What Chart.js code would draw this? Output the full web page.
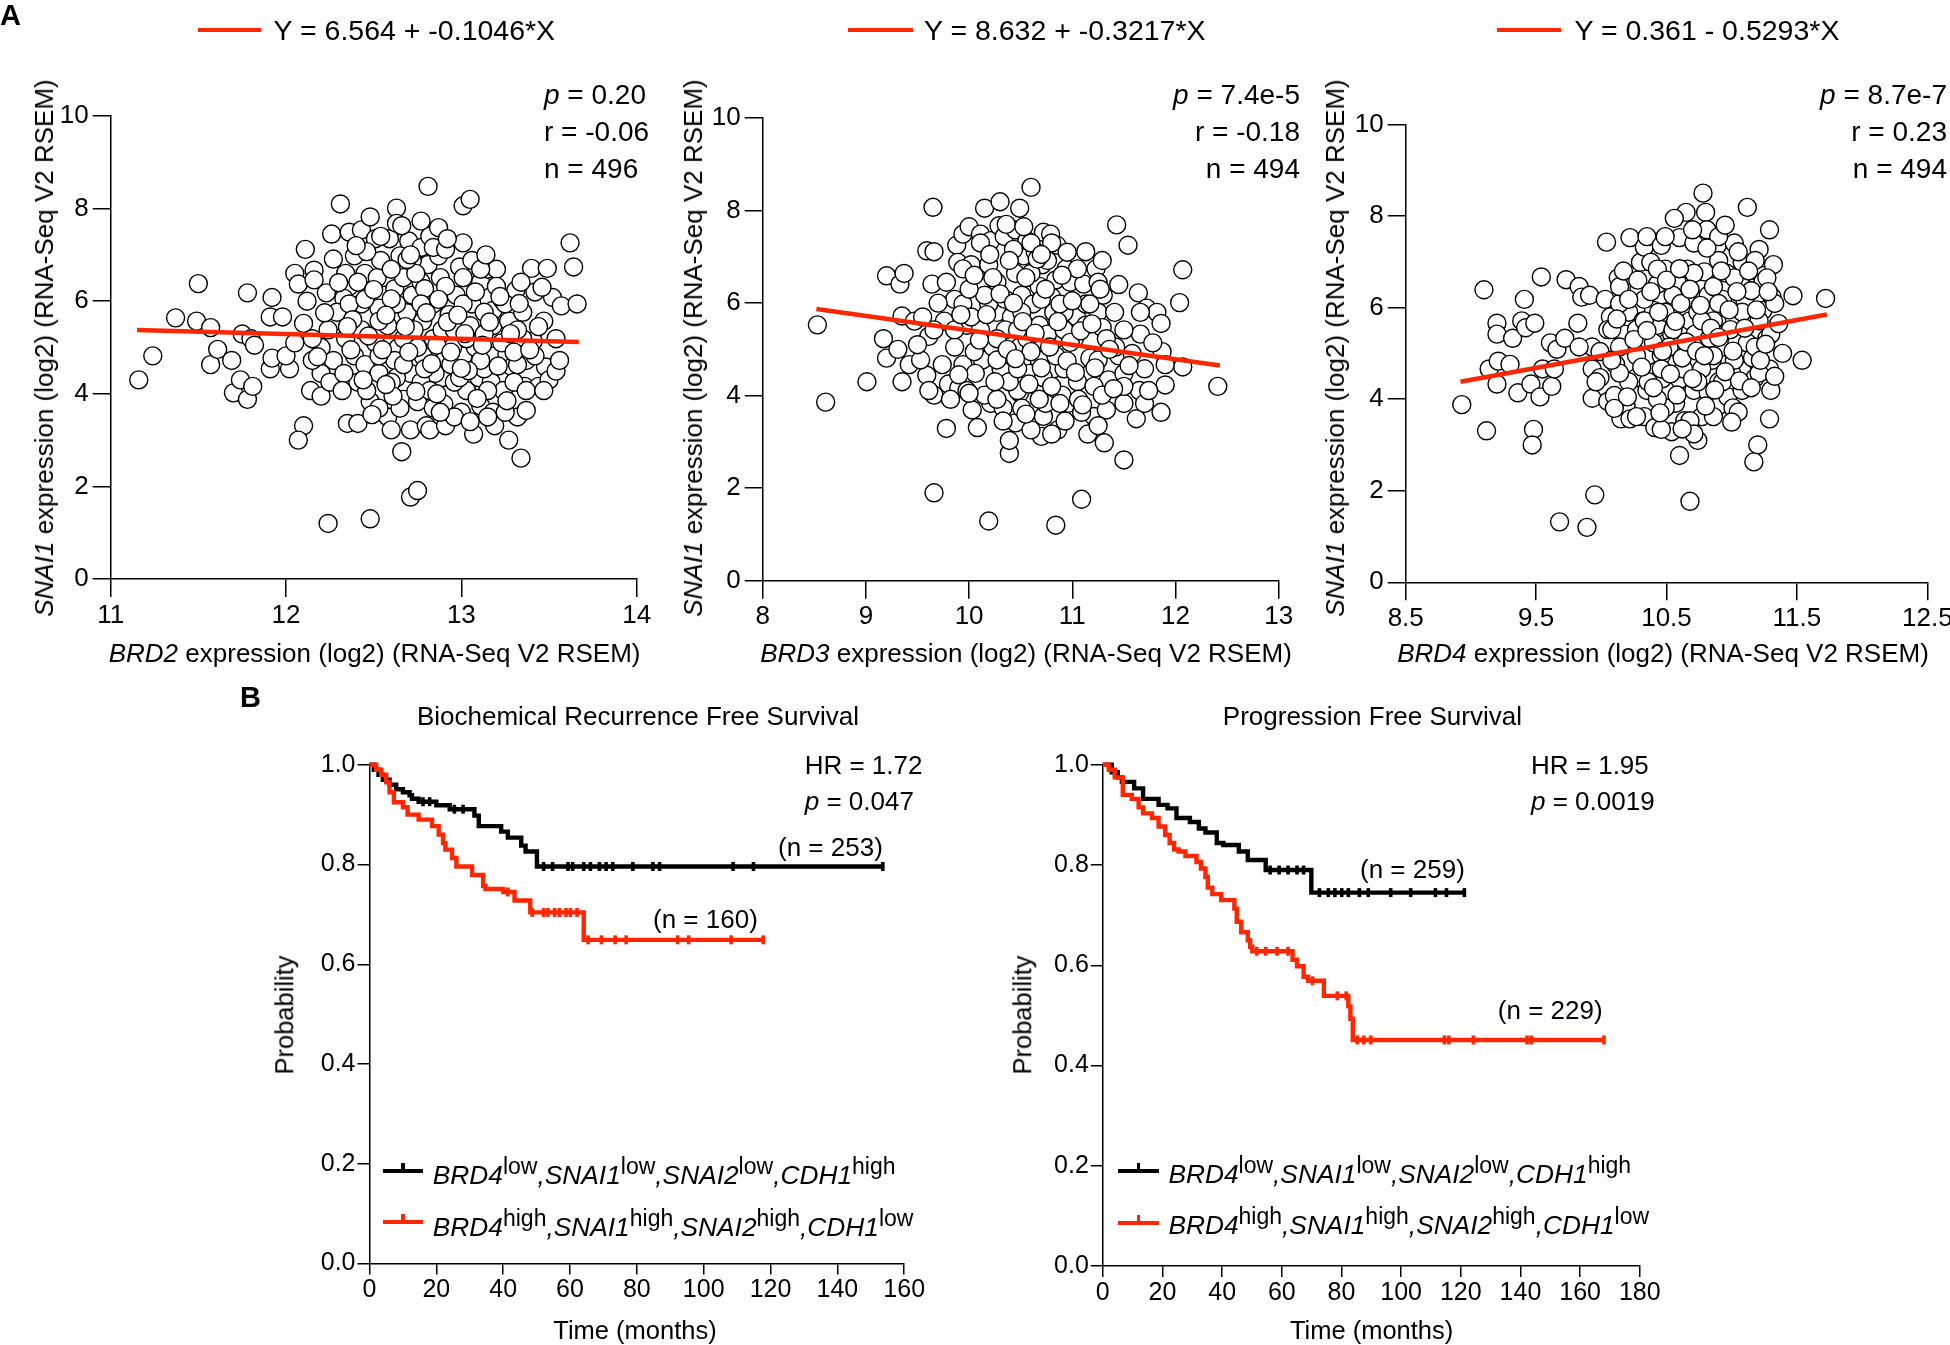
<!DOCTYPE html>
<html><head><meta charset="utf-8">
<script src="https://cdn.jsdelivr.net/npm/chart.js@4.4.1/dist/chart.umd.min.js"></script>
<style>
html,body{margin:0;padding:0;background:#fff;}
#wrap{position:relative;width:1950px;height:1345px;overflow:hidden;background:#fff;font-family:"Liberation Sans",Arial,Helvetica,sans-serif;color:#000;}
canvas{position:absolute;left:0;top:0;}
.t{position:absolute;white-space:nowrap;line-height:1;}
.l{transform:translateY(-50%);}
.c{transform:translate(-50%,-50%);}
.rot{transform:translate(-50%,-50%) rotate(-90deg);}
.seg{position:absolute;}
.lg sup{font-style:normal;font-size:23px;vertical-align:10px;line-height:0;}
</style></head>
<body><div id="wrap">
<canvas id="s1" width="2100" height="1345"></canvas>
<canvas id="s2" width="2100" height="1345"></canvas>
<canvas id="s3" width="2100" height="1345"></canvas>
<canvas id="k1" width="2100" height="1345"></canvas>
<canvas id="k2" width="2100" height="1345"></canvas>

<!-- panel letters -->
<div class="t l" style="left:0px;top:15px;font-size:29px;font-weight:bold">A</div>
<div class="t l" style="left:240px;top:697px;font-size:29px;font-weight:bold">B</div>

<!-- equation legends -->
<div class="seg" style="left:198px;top:27.8px;width:63px;height:4.5px;background:#ff2600"></div>
<div class="t l" style="left:273.6px;top:30px;font-size:28.5px">Y = 6.564 + -0.1046*X</div>
<div class="seg" style="left:848px;top:27.8px;width:64.5px;height:4.5px;background:#ff2600"></div>
<div class="t l" style="left:924px;top:30px;font-size:28.5px">Y = 8.632 + -0.3217*X</div>
<div class="seg" style="left:1496.5px;top:27.8px;width:64.5px;height:4.5px;background:#ff2600"></div>
<div class="t l" style="left:1574.5px;top:30px;font-size:28.5px">Y = 0.361 - 0.5293*X</div>

<!-- stats scatter -->
<div class="t l" style="left:544px;top:94.5px;font-size:28px"><i>p</i> = 0.20</div>
<div class="t l" style="left:544px;top:132px;font-size:28px">r = -0.06</div>
<div class="t l" style="left:544px;top:169px;font-size:28px">n = 496</div>
<div class="t l" style="right:650px;top:94.5px;font-size:28px"><i>p</i> = 7.4e-5</div>
<div class="t l" style="right:650px;top:132px;font-size:28px">r = -0.18</div>
<div class="t l" style="right:650px;top:169px;font-size:28px">n = 494</div>
<div class="t l" style="right:3px;top:94.5px;font-size:28px"><i>p</i> = 8.7e-7</div>
<div class="t l" style="right:3px;top:132px;font-size:28px">r = 0.23</div>
<div class="t l" style="right:3px;top:169px;font-size:28px">n = 494</div>

<!-- scatter axis titles -->
<div class="t c" style="left:374.6px;top:652.7px;font-size:26px"><i>BRD2</i> expression (log2) (RNA-Seq V2 RSEM)</div>
<div class="t c" style="left:1026px;top:652.7px;font-size:26px"><i>BRD3</i> expression (log2) (RNA-Seq V2 RSEM)</div>
<div class="t c" style="left:1663px;top:652.7px;font-size:26px"><i>BRD4</i> expression (log2) (RNA-Seq V2 RSEM)</div>
<div class="t rot" style="left:44.2px;top:348px;font-size:26px"><i>SNAI1</i> expression (log2) (RNA-Seq V2 RSEM)</div>
<div class="t rot" style="left:692.7px;top:348px;font-size:26px"><i>SNAI1</i> expression (log2) (RNA-Seq V2 RSEM)</div>
<div class="t rot" style="left:1334.5px;top:348px;font-size:26px"><i>SNAI1</i> expression (log2) (RNA-Seq V2 RSEM)</div>

<!-- KM titles and texts -->
<div class="t c" style="left:638px;top:716px;font-size:26px">Biochemical Recurrence Free Survival</div>
<div class="t c" style="left:1372.4px;top:716px;font-size:26px">Progression Free Survival</div>
<div class="t l" style="left:804.7px;top:764.8px;font-size:26px">HR = 1.72</div>
<div class="t l" style="left:804.7px;top:800.9px;font-size:26px"><i>p</i> = 0.047</div>
<div class="t l" style="left:1531px;top:764.8px;font-size:26px">HR = 1.95</div>
<div class="t l" style="left:1531px;top:800.9px;font-size:26px"><i>p</i> = 0.0019</div>
<div class="t l" style="left:778px;top:846.7px;font-size:26px">(n = 253)</div>
<div class="t l" style="left:653px;top:918.8px;font-size:26px">(n = 160)</div>
<div class="t l" style="left:1360px;top:868.7px;font-size:26px">(n = 259)</div>
<div class="t l" style="left:1497.8px;top:1010px;font-size:26px">(n = 229)</div>
<div class="t rot" style="left:284.6px;top:1015px;font-size:25.5px">Probability</div>
<div class="t rot" style="left:1023.3px;top:1015px;font-size:25.5px">Probability</div>
<div class="t c" style="left:635px;top:1331px;font-size:25.5px">Time (months)</div>
<div class="t c" style="left:1371.6px;top:1331px;font-size:25.5px">Time (months)</div>

<!-- KM legends -->
<div class="seg" style="left:382.8px;top:1168.8px;width:40.2px;height:4.4px;background:#000"></div>
<div class="seg" style="left:401.2px;top:1163px;width:3.6px;height:8px;background:#000"></div>
<div class="t l lg" style="left:432.8px;top:1175px;font-size:26.3px"><i>BRD4</i><sup>low</sup><i>,SNAI1</i><sup>low</sup><i>,SNAI2</i><sup>low</sup><i>,CDH1</i><sup>high</sup></div>
<div class="seg" style="left:382.8px;top:1219.8px;width:40.2px;height:4.4px;background:#ff2600"></div>
<div class="seg" style="left:401.2px;top:1214px;width:3.6px;height:8px;background:#ff2600"></div>
<div class="t l lg" style="left:432.8px;top:1226.7px;font-size:26.3px"><i>BRD4</i><sup>high</sup><i>,SNAI1</i><sup>high</sup><i>,SNAI2</i><sup>high</sup><i>,CDH1</i><sup>low</sup></div>
<div class="seg" style="left:1118.4px;top:1168.8px;width:40.2px;height:4.4px;background:#000"></div>
<div class="seg" style="left:1136.8px;top:1163px;width:3.6px;height:8px;background:#000"></div>
<div class="t l lg" style="left:1168.4px;top:1174px;font-size:26.3px"><i>BRD4</i><sup>low</sup><i>,SNAI1</i><sup>low</sup><i>,SNAI2</i><sup>low</sup><i>,CDH1</i><sup>high</sup></div>
<div class="seg" style="left:1118.4px;top:1220.6px;width:40.2px;height:4.4px;background:#ff2600"></div>
<div class="seg" style="left:1136.8px;top:1215px;width:3.6px;height:8px;background:#ff2600"></div>
<div class="t l lg" style="left:1168.4px;top:1225px;font-size:26.3px"><i>BRD4</i><sup>high</sup><i>,SNAI1</i><sup>high</sup><i>,SNAI2</i><sup>high</sup><i>,CDH1</i><sup>low</sup></div>
</div>

<script>
// ---------------- DATA ----------------
// Panel A: [gene expression, SNAI1 expression] (log2 RSEM)
const brd2Points = [[11.16,4.30],[11.24,4.82],[11.37,5.64],[11.50,6.38],[11.49,5.57],[11.57,5.43],[11.57,4.63],[11.61,4.96],[11.69,4.72],[11.70,4.02],[11.74,4.30],[11.78,3.88],[11.81,4.16],[11.78,6.18],[11.75,5.29],[11.80,5.19],[11.82,5.05],[11.91,4.54],[11.92,6.08],[11.91,5.66],[11.98,5.66],[11.92,4.77],[12.02,4.54],[12.00,4.82],[12.05,6.60],[12.07,6.37],[12.11,7.12],[12.10,5.52],[12.10,3.31],[12.07,3.00],[12.16,6.67],[12.16,6.46],[12.14,4.07],[12.20,3.95],[12.23,6.18],[12.26,7.45],[12.31,8.10],[12.24,1.20],[12.27,4.72],[12.28,5.57],[12.20,4.44],[12.36,7.49],[12.35,3.36],[12.41,3.36],[12.36,6.32],[12.39,6.98],[12.43,7.54],[12.48,1.30],[12.48,3.83],[12.43,5.94],[12.45,6.60],[12.51,7.35],[12.52,6.51],[12.54,6.88],[12.56,6.13],[12.53,5.85],[12.58,3.50],[12.59,7.35],[12.63,8.01],[12.63,7.68],[12.62,6.27],[12.65,5.66],[12.66,2.75],[12.64,5.00],[12.67,3.88],[12.70,7.30],[12.69,5.75],[12.71,1.77],[12.75,1.91],[12.71,3.22],[12.71,4.44],[12.75,3.83],[12.77,7.73],[12.77,7.16],[12.75,6.79],[12.81,8.48],[12.82,7.40],[12.81,6.79],[12.78,5.57],[12.78,4.82],[12.80,3.31],[12.82,3.22],[12.87,7.59],[12.87,6.98],[12.88,6.51],[12.84,5.19],[12.89,4.35],[12.90,3.78],[12.91,3.31],[12.93,5.71],[12.91,4.77],[12.99,6.74],[13.00,3.60],[13.01,8.06],[13.05,8.20],[13.01,4.82],[13.03,4.07],[13.05,5.47],[13.06,5.94],[13.07,3.13],[13.08,5.00],[13.11,6.41],[13.11,3.74],[13.10,4.35],[13.15,6.69],[13.17,4.25],[13.18,5.80],[13.18,5.47],[13.18,3.60],[13.20,6.69],[13.19,4.82],[13.23,6.04],[13.26,4.86],[13.27,3.00],[13.29,4.58],[13.31,6.23],[13.32,3.50],[13.34,2.61],[13.36,4.16],[13.37,3.64],[13.40,6.71],[13.41,5.14],[13.42,6.20],[13.44,4.16],[13.48,4.58],[13.49,6.71],[13.52,6.08],[13.50,4.30],[13.54,4.49],[13.57,5.90],[13.62,7.26],[13.64,6.74],[13.66,5.94],[12.27,6.91],[12.33,6.06],[12.34,5.19],[12.39,4.82],[12.41,4.25],[12.43,5.38],[12.45,4.63],[12.51,5.10],[12.53,4.44],[12.58,5.47],[12.62,4.72],[12.63,4.35],[12.67,5.19],[12.72,6.13],[12.73,5.38],[12.77,6.41],[12.84,5.94],[12.85,4.44],[12.89,5.38],[12.95,5.00],[12.96,4.25],[12.97,6.13],[13.01,7.26],[13.06,6.88],[13.13,5.29],[13.24,4.07],[13.27,5.57],[13.35,5.19],[13.37,4.72],[12.20,5.00],[12.25,4.25],[12.15,5.19],[12.05,5.10],[12.48,7.82],[12.67,6.51],[12.91,6.32],[12.65,3.69],[12.77,4.25],[13.13,4.54],[13.19,3.31],[12.54,7.40],[12.66,7.63],[12.46,7.07],[12.65,6.98],[12.84,7.16],[12.91,7.12],[13.11,6.69],[12.34,6.60],[12.41,6.41],[12.60,6.69],[12.72,6.88],[12.79,6.27],[13.01,6.51],[13.20,6.32],[13.34,6.41],[12.29,5.76],[12.36,5.94],[12.45,6.04],[12.63,5.94],[12.77,5.94],[12.87,6.04],[13.01,5.94],[13.13,5.76],[13.25,5.94],[13.35,5.76],[13.47,5.57],[12.24,5.38],[12.53,5.57],[12.75,5.00],[12.96,5.38],[13.03,5.19],[13.23,5.10],[13.32,5.38],[13.54,5.19],[12.15,4.72],[12.33,4.44],[12.53,4.82],[12.67,4.63],[12.79,4.54],[12.94,4.63],[13.11,4.72],[13.32,4.63],[13.42,4.82],[13.56,4.72],[12.32,4.07],[12.46,4.07],[12.60,4.25],[12.82,4.07],[12.99,4.35],[13.15,4.07],[13.30,4.25],[13.37,4.07],[13.47,4.07],[12.53,3.69],[12.60,3.22],[12.84,3.69],[12.96,3.50],[13.15,3.50],[13.25,3.60],[12.30,6.40],[12.38,5.60],[12.47,5.25],[12.55,4.95],[12.60,6.05],[12.68,5.45],[12.70,4.90],[12.74,6.60],[12.80,5.75],[12.83,4.65],[12.86,5.05],[12.92,5.55],[12.94,4.90],[12.98,5.70],[13.02,5.30],[13.04,4.50],[13.08,6.20],[13.12,5.05],[13.16,5.55],[13.21,4.60],[13.22,6.10],[13.28,5.30],[13.30,4.90],[13.33,5.95],[13.39,4.95],[13.44,5.45],[13.46,6.30],[12.37,4.95],[12.44,4.30],[12.50,6.25],[12.57,5.70],[12.61,3.95],[12.69,6.90],[12.74,4.05],[12.86,4.00],[12.92,7.35],[13.00,4.55],[13.09,3.90],[13.14,7.00],[13.26,3.85],[12.40,7.20],[12.57,4.20],[12.71,7.00],[12.88,3.60],[13.05,3.40],[12.49,3.55],[12.35,5.45],[12.22,5.75],[12.18,4.80],[12.12,6.00]];
const brd3Points = [[8.53,5.53],[8.61,3.86],[9.01,4.30],[9.17,5.23],[9.20,6.59],[9.20,4.81],[9.31,5.00],[9.35,4.30],[9.33,6.41],[9.37,6.64],[9.35,5.72],[9.42,4.67],[9.47,5.61],[9.59,4.44],[9.61,5.28],[9.59,7.13],[9.66,7.11],[9.65,8.07],[9.64,6.41],[9.66,4.01],[9.66,1.90],[9.76,5.61],[9.74,4.67],[9.78,3.29],[9.80,4.25],[9.86,6.08],[9.88,7.25],[9.89,6.88],[9.90,4.16],[9.94,7.49],[10.00,7.65],[10.02,6.83],[9.94,4.67],[9.98,5.52],[10.03,3.69],[10.08,5.98],[10.08,3.31],[10.11,7.49],[10.13,4.77],[10.15,8.05],[10.19,1.29],[10.19,6.83],[10.21,7.35],[10.21,3.83],[10.23,5.05],[10.27,6.45],[10.27,5.80],[10.30,8.19],[10.29,7.67],[10.31,4.58],[10.34,7.44],[10.33,3.73],[10.39,2.75],[10.39,3.03],[10.41,4.86],[10.41,5.70],[10.45,6.64],[10.45,7.58],[10.45,3.41],[10.49,8.05],[10.49,4.06],[10.51,6.17],[10.49,5.05],[10.53,7.02],[10.56,7.35],[10.60,8.50],[10.59,4.48],[10.62,5.98],[10.66,4.20],[10.68,5.52],[10.68,4.77],[10.70,3.12],[10.72,7.53],[10.71,6.83],[10.72,3.55],[10.74,3.83],[10.80,6.13],[10.82,5.80],[10.82,4.58],[10.84,1.20],[10.85,7.25],[10.84,6.50],[10.86,3.26],[10.84,5.23],[10.94,6.74],[10.96,3.83],[10.98,6.45],[11.02,5.23],[11.04,5.70],[11.09,1.76],[11.11,6.41],[11.13,5.98],[11.15,3.17],[11.15,4.44],[11.17,4.81],[11.21,3.55],[11.23,6.74],[11.25,5.80],[11.29,5.47],[11.29,6.92],[11.31,2.98],[11.33,3.69],[11.35,4.34],[11.43,7.69],[11.45,4.86],[11.50,3.83],[11.50,2.61],[11.54,7.25],[11.58,4.91],[11.62,3.50],[11.64,6.22],[11.66,5.33],[11.65,4.11],[11.72,5.89],[11.70,3.83],[11.82,5.80],[11.86,5.56],[11.87,4.95],[11.86,3.64],[11.90,4.23],[12.04,6.01],[12.07,6.72],[12.07,4.62],[12.41,4.20],[10.11,5.42],[10.19,5.98],[10.35,5.42],[10.56,5.23],[10.60,4.95],[10.68,6.36],[10.92,5.80],[10.92,4.58],[11.05,4.30],[11.30,6.17],[11.42,5.05],[10.47,4.11],[10.39,4.30],[10.15,4.01],[9.86,5.05],[9.82,3.92],[10.90,4.01],[11.06,3.92],[11.21,4.20],[11.13,7.11],[10.64,7.11],[10.79,7.49],[10.11,7.30],[10.43,7.16],[10.60,7.30],[10.80,7.30],[9.94,6.74],[10.23,6.55],[10.39,6.92],[10.60,6.64],[10.76,6.92],[11.05,6.74],[11.25,6.45],[9.94,5.98],[10.15,6.17],[10.35,6.08],[10.51,5.80],[10.70,6.08],[10.88,5.98],[11.17,5.98],[11.41,5.80],[11.66,5.80],[9.66,5.42],[9.86,5.42],[10.02,5.70],[10.27,5.23],[10.47,5.42],[10.76,5.33],[10.92,5.42],[11.13,5.52],[11.33,5.23],[11.50,5.42],[11.78,5.14],[9.53,4.77],[10.06,4.48],[10.27,4.77],[10.47,4.58],[10.72,4.39],[10.84,4.86],[11.25,4.77],[11.50,4.48],[11.70,4.58],[11.90,4.67],[9.61,4.11],[9.98,4.11],[10.27,3.92],[10.51,3.73],[10.68,3.92],[10.88,3.83],[11.09,3.64],[11.29,4.01],[11.50,4.20],[11.74,4.11],[10.60,3.26],[10.80,3.17],[9.78,6.45],[9.92,5.75],[10.00,6.30],[10.05,4.95],[10.10,5.20],[10.17,5.75],[10.25,4.30],[10.30,6.20],[10.37,5.00],[10.43,6.00],[10.45,4.80],[10.52,5.60],[10.55,6.55],[10.58,4.25],[10.64,5.35],[10.66,6.95],[10.70,4.60],[10.74,6.30],[10.78,5.05],[10.80,4.20],[10.86,5.60],[10.90,6.60],[10.95,4.75],[10.98,5.15],[11.00,6.05],[11.03,4.50],[11.08,5.40],[11.10,3.80],[11.19,5.55],[11.22,4.60],[11.27,6.30],[11.36,5.00],[11.40,4.15],[11.45,6.40],[11.55,4.65],[10.20,7.05],[10.36,7.70],[10.53,7.65],[10.70,7.05],[10.95,7.10],[10.05,6.60],[9.90,4.45],[10.00,4.05],[10.33,3.45],[10.55,3.60],[10.93,3.45],[11.25,3.35],[9.70,6.00],[9.55,5.70],[9.50,5.10]];
const brd4Points = [[8.93,3.88],[9.10,6.39],[9.12,3.31],[9.14,4.66],[9.20,5.66],[9.20,5.42],[9.21,4.83],[9.20,4.33],[9.30,4.76],[9.32,5.33],[9.36,4.14],[9.39,5.71],[9.41,6.18],[9.42,5.56],[9.46,4.33],[9.49,5.66],[9.48,3.34],[9.47,3.00],[9.53,4.05],[9.54,6.67],[9.55,4.66],[9.61,5.23],[9.62,4.28],[9.64,4.66],[9.66,5.09],[9.68,1.32],[9.72,5.33],[9.73,6.61],[9.82,5.66],[9.83,6.46],[9.85,6.23],[9.89,1.20],[9.91,6.27],[9.93,5.14],[9.93,4.66],[9.93,4.02],[9.95,1.91],[9.99,5.04],[10.03,6.18],[10.04,7.43],[10.05,3.95],[10.07,5.80],[10.10,4.08],[10.11,4.76],[10.13,6.65],[10.15,3.57],[10.18,5.42],[10.19,3.86],[10.21,5.90],[10.22,3.57],[10.22,7.53],[10.24,5.14],[10.27,4.47],[10.29,6.42],[10.30,6.99],[10.32,5.71],[10.33,3.62],[10.33,7.32],[10.35,7.55],[10.35,4.19],[10.36,4.95],[10.40,5.94],[10.41,3.38],[10.43,6.51],[10.43,5.61],[10.46,7.36],[10.47,4.45],[10.49,6.84],[10.50,5.23],[10.52,4.76],[10.54,3.29],[10.54,5.42],[10.55,5.99],[10.57,3.91],[10.58,6.56],[10.60,2.77],[10.60,7.53],[10.60,4.43],[10.63,5.04],[10.64,3.53],[10.65,8.08],[10.66,6.84],[10.66,6.18],[10.68,5.71],[10.68,1.77],[10.71,4.19],[10.72,5.42],[10.74,3.10],[10.76,6.56],[10.77,3.62],[10.78,8.50],[10.79,6.78],[10.80,8.08],[10.81,7.70],[10.82,6.27],[10.82,4.14],[10.85,4.85],[10.86,5.71],[10.89,7.36],[10.90,4.38],[10.90,3.86],[10.93,6.18],[10.94,5.14],[10.96,6.75],[10.97,4.05],[11.01,3.81],[11.02,5.75],[11.02,7.41],[11.04,5.23],[11.07,6.51],[11.08,4.62],[11.10,6.18],[11.12,5.23],[11.12,8.19],[11.16,4.90],[11.20,3.00],[11.17,2.63],[11.21,7.27],[11.23,6.70],[11.24,5.94],[11.27,5.33],[11.29,7.70],[11.29,4.66],[11.29,3.57],[11.30,4.19],[11.31,6.23],[11.32,6.94],[11.39,5.00],[11.47,6.26],[11.54,4.85],[11.72,6.20],[10.14,6.09],[10.21,4.38],[10.27,5.52],[10.33,6.18],[10.46,4.95],[10.49,3.81],[10.55,5.52],[10.63,4.66],[10.74,5.90],[10.77,4.66],[10.83,5.33],[10.90,7.03],[11.00,4.57],[11.08,6.99],[11.15,5.71],[11.18,4.47],[11.24,6.56],[10.38,6.99],[10.05,5.52],[9.99,4.47],[10.43,4.00],[10.49,7.55],[10.71,7.41],[10.90,7.55],[11.05,7.22],[11.18,7.03],[10.14,6.46],[10.43,6.84],[10.55,6.27],[10.71,6.75],[10.86,6.46],[11.02,6.65],[11.15,6.37],[11.27,6.65],[10.08,5.52],[10.21,6.18],[10.33,5.71],[10.49,5.90],[10.61,6.09],[10.77,5.71],[10.90,6.09],[10.99,5.52],[11.08,5.90],[11.21,5.71],[11.33,6.09],[9.83,5.14],[10.14,5.14],[10.27,4.95],[10.40,5.23],[10.52,5.14],[10.71,5.14],[10.86,4.95],[11.02,4.85],[11.18,5.14],[11.30,5.42],[9.96,4.38],[10.14,4.57],[10.36,4.38],[10.46,4.66],[10.58,4.09],[10.74,4.38],[10.93,4.38],[11.08,4.19],[11.21,4.57],[10.27,3.62],[10.46,3.34],[10.68,3.53],[10.86,3.62],[11.05,3.72],[10.71,3.24],[10.08,4.85],[10.12,5.75],[10.17,6.80],[10.20,4.05],[10.25,5.30],[10.28,6.60],[10.31,4.70],[10.35,5.50],[10.38,6.35],[10.40,4.25],[10.44,5.90],[10.47,5.05],[10.50,6.60],[10.53,4.55],[10.57,5.70],[10.60,6.85],[10.62,4.90],[10.65,5.25],[10.68,6.40],[10.70,4.45],[10.73,5.05],[10.76,6.05],[10.79,4.95],[10.81,7.30],[10.84,5.55],[10.87,4.20],[10.90,5.35],[10.92,6.80],[10.95,4.60],[10.98,5.95],[11.01,5.05],[11.04,6.35],[11.06,4.40],[11.10,5.55],[11.13,6.80],[11.15,4.25],[11.19,5.95],[11.22,4.85],[11.26,5.20],[11.28,6.35],[11.33,4.50],[11.36,5.65],[10.56,7.95],[10.70,7.70],[10.95,7.80],[10.45,3.70],[10.62,3.35],[10.80,3.85],[11.00,3.50],[10.10,3.80]];
// regression line end points [x, y]
const brd2Fit = [[11.15,5.38],[13.67,5.12]];
const brd3Fit = [[8.52,5.87],[12.43,4.65]];
const brd4Fit = [[8.92,4.38],[11.73,5.85]];
// axis ticks
const brd2XTicks = [11,12,13,14], brd2XLabels = ['11','12','13','14'];
const brd3XTicks = [8,9,10,11,12,13], brd3XLabels = ['8','9','10','11','12','13'];
const brd4XTicks = [8.5,9.5,10.5,11.5,12.5], brd4XLabels = ['8.5','9.5','10.5','11.5','12.5'];
const snaiYTicks = [0,2,4,6,8,10], snaiYLabels = ['0','2','4','6','8','10'];

// Panel B: Kaplan-Meier (time in months, survival probability after the step)
const bcrLowT  = [0,1.3,2.7,4,6,8,10,12,12.7,14.7,20,24,31.4,32.7,39.4,41.4,45.4,46.7,50.1,153.6];
const bcrLowS  = [1.0,0.99,0.98,0.97,0.96,0.951,0.945,0.939,0.932,0.926,0.919,0.911,0.898,0.877,0.866,0.854,0.838,0.826,0.796,0.796];
const bcrHighT = [0,2,3.5,5,6,7.3,10,11.4,14.7,18.7,20.7,22,22.7,24.7,26,30.7,34,34.7,40,43.4,48.1,64.1,117.8];
const bcrHighS = [1.0,0.99,0.98,0.965,0.945,0.925,0.915,0.90,0.89,0.877,0.86,0.843,0.83,0.813,0.796,0.779,0.757,0.751,0.745,0.728,0.704,0.649,0.649];
const bcrLowCens  = [16,18,25.4,28,52.1,54.8,59.4,60.8,64.1,66.1,68.8,70.8,72.8,78.8,84.8,86.8,108.8,114.9,153.6];
const bcrHighCens = [41.4,48.7,52.1,53.4,55.4,56.8,58.8,60.1,62.1,65.4,69.4,73.5,76.8,92.2,95.5,108.2,117.8];

const pfsLowT  = [0,3,5,6.4,10.5,13.5,18.7,21.7,24.7,29.2,32.2,34.4,38.2,40.4,45.6,48.6,54.6,69.9,121.6];
const pfsLowS  = [1.0,0.985,0.975,0.966,0.953,0.932,0.92,0.913,0.894,0.886,0.873,0.865,0.844,0.84,0.827,0.81,0.79,0.745,0.745];
const pfsHighT = [0,2,4,6.7,9.7,12,13.5,16.5,18.7,20.9,22.4,23.9,25.4,27.7,31.4,32.9,34.4,35.2,36.7,39.7,44.1,44.9,46.4,48.6,49.4,50.1,63.6,65.1,67.3,68.8,74.1,82.3,83,83.8,168];
const pfsHighS = [1.0,0.99,0.975,0.94,0.932,0.915,0.903,0.894,0.877,0.86,0.844,0.831,0.827,0.818,0.806,0.793,0.776,0.755,0.742,0.73,0.713,0.687,0.666,0.65,0.637,0.628,0.611,0.598,0.577,0.569,0.539,0.518,0.493,0.451,0.451];
const pfsLowCens  = [56.1,59.1,62.1,65.1,67.3,72.6,75.6,77.8,80.1,82.3,86,89,96.5,103.2,111.5,115.2,121.2];
const pfsHighCens = [51.6,54.6,58.4,62.1,70.3,78.6,81.6,85.3,87.5,89.8,114.5,116,124.2,142.2,143.6,168];

const bcrXTicks = [0,20,40,60,80,100,120,140,160];
const pfsXTicks = [0,20,40,60,80,100,120,140,160,180];
const probTicks = [0,0.2,0.4,0.6,0.8,1.0], probLabels = ['0.0','0.2','0.4','0.6','0.8','1.0'];

// ---------------- RENDER ----------------
const RED = '#ff2600';
const FONT = '"Liberation Sans", Arial, Helvetica, sans-serif';
const CW = 2100, CH = 1345, AXW = 80, AXH = 80;

function axis(cfg, horiz){
  return {
    type:'linear', position: horiz ? 'bottom' : 'left',
    min: cfg.min, max: cfg.max,
    afterBuildTicks: s => { s.ticks = cfg.ticks.map(v => ({value: v})); },
    afterFit: s => { if (horiz) s.height = AXH; else s.width = AXW; },
    grid:{display:true, drawOnChartArea:false, drawTicks:true, tickLength:cfg.tl, color:'#000', tickColor:'#000', lineWidth:cfg.lw, tickWidth:cfg.lw},
    border:{display:true, color:'#000', width:cfg.lw},
    ticks:{color:'#000', font:{family:FONT, size:cfg.fs}, padding:cfg.pad, maxRotation:0, minRotation:0, autoSkip:false,
           callback:(v,i) => cfg.labels[i]}
  };
}
function build(id, area, xc, yc, datasets){
  new Chart(document.getElementById(id), {
    type:'scatter',
    data:{datasets},
    options:{
      responsive:false, animation:false, devicePixelRatio:1, events:[],
      layout:{padding:{left:area.left-AXW, top:area.top, right:CW-area.right, bottom:CH-area.bottom-AXH}},
      plugins:{legend:{display:false}, tooltip:{enabled:false}, title:{display:false}},
      scales:{x:axis(xc,true), y:axis(yc,false)}
    }
  });
}
function scatterSets(pts, fit){
  return [
    {type:'line', data:fit.map(p=>({x:p[0], y:p[1]})), borderColor:RED, borderWidth:4.5, pointRadius:0, fill:false, clip:false, order:0},
    {type:'scatter', data:pts.map(p=>({x:p[0], y:p[1]})), pointRadius:9, pointBackgroundColor:'#fff', pointBorderColor:'#000', pointBorderWidth:1.4, clip:false, order:1}
  ];
}
const sy = ()=>({min:0, max:10, ticks:snaiYTicks, labels:snaiYLabels, tl:18, lw:1.5, fs:26, pad:4});
build('s1', {left:110.7, top:116, right:636.7, bottom:579},
  {min:11, max:14, ticks:brd2XTicks, labels:brd2XLabels, tl:18, lw:1.5, fs:26, pad:3}, sy(), scatterSets(brd2Points, brd2Fit));
build('s2', {left:762.7, top:118, right:1278.7, bottom:580.7},
  {min:8, max:13, ticks:brd3XTicks, labels:brd3XLabels, tl:18, lw:1.5, fs:26, pad:3}, sy(), scatterSets(brd3Points, brd3Fit));
build('s3', {left:1405.7, top:124.5, right:1927.3, bottom:582.3},
  {min:8.5, max:12.5, ticks:brd4XTicks, labels:brd4XLabels, tl:18, lw:1.5, fs:26, pad:3}, sy(), scatterSets(brd4Points, brd4Fit));

function stepAt(T, S, t){ let v = S[0]; for (let i=0;i<T.length;i++){ if (T[i] <= t) v = S[i]; } return v; }
function kmSets(lowT, lowS, highT, highS, lowC, highC){
  const pts = (T,S) => T.map((t,i)=>({x:t, y:S[i]}));
  const cens = (T,S,C) => C.map(t=>({x:t, y:stepAt(T,S,t)}));
  const curve = (d,col,o) => ({type:'line', data:d, borderColor:col, borderWidth:4.4, stepped:'before', pointRadius:0, fill:false, clip:false, order:o});
  const marks = (d,col,o) => ({type:'scatter', data:d, pointStyle:'line', rotation:90, pointRadius:4.5, pointBorderColor:col, borderColor:col, pointBorderWidth:3.6, clip:false, order:o});
  return [
    curve(pts(highT,highS), RED, 0), marks(cens(highT,highS,highC), RED, 0),
    curve(pts(lowT,lowS), '#000', 1), marks(cens(lowT,lowS,lowC), '#000', 1)
  ];
}
const ky = {min:0, max:1, ticks:probTicks, labels:probLabels, tl:12, lw:1.5, fs:25, pad:2};
build('k1', {left:369.5, top:764.8, right:904.2, bottom:1263.5},
  {min:0, max:160, ticks:bcrXTicks, labels:bcrXTicks.map(String), tl:11, lw:1.5, fs:25, pad:1}, ky,
  kmSets(bcrLowT, bcrLowS, bcrHighT, bcrHighS, bcrLowCens, bcrHighCens));
build('k2', {left:1102.8, top:764.8, right:1639.8, bottom:1266},
  {min:0, max:180, ticks:pfsXTicks, labels:pfsXTicks.map(String), tl:11, lw:1.5, fs:25, pad:1}, ky,
  kmSets(pfsLowT, pfsLowS, pfsHighT, pfsHighS, pfsLowCens, pfsHighCens));
</script>
</body></html>
